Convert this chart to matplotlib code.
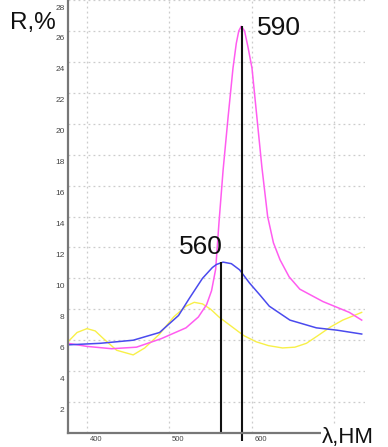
import matplotlib
matplotlib.use('Agg')
import matplotlib.pyplot as plt
import matplotlib.transforms as mtransforms

plt.rcParams['font.family'] = ['Liberation Sans', 'DejaVu Sans']

# spectra (wavelength in nm, reflectance in %)
wl_magenta = [377, 400, 430, 460, 490, 520, 535, 545, 551, 556, 560, 565, 571, 577, 581,
              584, 587, 591, 595, 600, 606, 612, 619, 626, 634, 645, 658, 686, 718, 733]
r_magenta = [5.8, 5.6, 5.45, 5.55, 6.1, 6.8, 7.5, 8.3, 9.2, 10.6, 13.6, 17.0, 20.4, 23.6, 25.2,
             26.0, 26.3, 26.0, 25.0, 23.6, 20.4, 17.2, 14.0, 12.3, 11.2, 10.1, 9.3, 8.5, 7.8, 7.3]

wl_blue = [377, 416, 456, 488, 511, 524, 540, 552, 557, 565, 575, 585, 597, 610, 621,
           646, 678, 703, 733]
r_blue = [5.7, 5.8, 6.0, 6.5, 7.6, 8.7, 10.0, 10.7, 10.9, 11.05, 10.95, 10.55, 9.7, 8.9, 8.2,
          7.3, 6.8, 6.65, 6.4]

wl_yellow = [377, 388, 400, 410, 420, 436, 456, 470, 488, 505, 520, 530, 540, 550, 560,
             575, 590, 605, 620, 637, 652, 666, 680, 695, 710, 733]
r_yellow = [5.9, 6.5, 6.75, 6.6, 6.1, 5.35, 5.05, 5.5, 6.4, 7.5, 8.2, 8.45, 8.35, 8.0, 7.5,
            6.9, 6.3, 5.9, 5.65, 5.5, 5.55, 5.8, 6.3, 6.85, 7.3, 7.8]

peak_wl = [563, 588]
peak_r = [11.05, 26.3]
peak_labels = ['560', '590']

x_ticks = [400, 500, 600, 700]
y_ticks = list(range(2, 29, 2))

fig = plt.figure(figsize=(3.88, 4.47), dpi=100)
ax = fig.add_axes([68 / 388, 14 / 447, 297 / 388, 433 / 447])

ax.plot(wl_yellow, r_yellow, color='#f8f048', lw=1.0)
ax.plot(wl_magenta, r_magenta, color='#ff5cf0', lw=1.1)
ax.plot(wl_blue, r_blue, color='#4a4aee', lw=1.1)

ax.vlines(peak_wl[0], 0, peak_r[0], color='#111111', lw=1.5)
ax.vlines(peak_wl[1], -0.5, peak_r[1], color='#111111', lw=1.5, clip_on=False)

ax.text(512, 12.0, peak_labels[0], fontsize=19, color='#111111', va='center')
ax.text(606, 26.2, peak_labels[1], fontsize=19, color='#111111', va='center')

ax.set_xlim(377, 737)
ax.set_ylim(0, 28)
ax.set_xticks(x_ticks)
ax.set_yticks(y_ticks)
ax.set_xticklabels([str(v) for v in x_ticks])
ax.grid(True, color='#cccccc', ls=(0, (1.5, 2.5)), lw=0.9)
ax.tick_params(length=0, labelsize=6, labelcolor='#444444', pad=2.5)
ax.tick_params(axis='x', labelsize=5.5, pad=2)

for s in ['top', 'right']:
    ax.spines[s].set_visible(False)
for s in ['left', 'bottom']:
    ax.spines[s].set_color('#777777')
    ax.spines[s].set_linewidth(1.6)

# the scanned tick labels sit a little off their grid lines
dy = mtransforms.ScaledTranslation(0, -7 / 100, fig.dpi_scale_trans)
for lab in ax.get_yticklabels():
    lab.set_transform(lab.get_transform() + dy)
dx = mtransforms.ScaledTranslation(9 / 100, 0, fig.dpi_scale_trans)
for lab in ax.get_xticklabels():
    lab.set_transform(lab.get_transform() + dx)
# the axis name covers the last x label in the scan
ax.get_xticklabels()[-1].set_visible(False)

fig.text(10 / 388, 1 - 23 / 447, 'R,%', fontsize=17.5, color='#111111', va='center',
         bbox=dict(facecolor='white', edgecolor='none', pad=1))
fig.text(322 / 388, 1 - 437 / 447, 'λ,НМ', fontsize=16, color='#111111', va='center',
         bbox=dict(facecolor='white', edgecolor='none', pad=0.5))

fig.savefig('out.png', dpi=100)
